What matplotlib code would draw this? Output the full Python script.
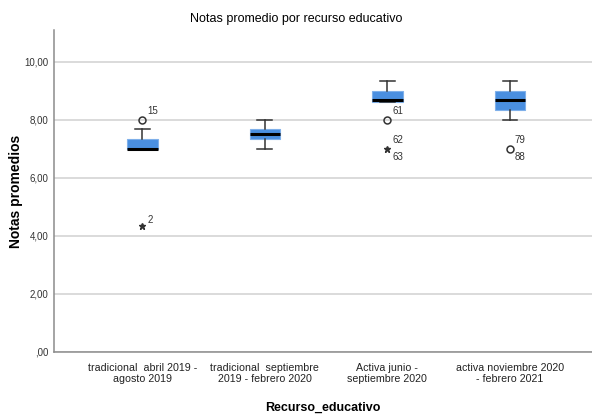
import matplotlib
matplotlib.use("Agg")
from matplotlib import pyplot as plt

plt.rcParams['font.family'] = ['Liberation Sans', 'DejaVu Sans']

# Datos
categorias = ["tradicional  abril 2019 -\nagosto 2019",
              "tradicional  septiembre\n2019 - febrero 2020",
              "Activa junio -\nseptiembre 2020",
              "activa noviembre 2020\n- febrero 2021"]
q1 = [7.0, 7.33, 8.63, 8.33]
mediana = [7.0, 7.52, 8.68, 8.68]
q3 = [7.33, 7.68, 9.0, 9.0]
bigote_bajo = [7.0, 7.0, 8.63, 8.0]
bigote_alto = [7.67, 8.0, 9.33, 9.33]

# atipicos: (grupo, valor, etiqueta)
atipicos_circ = [(0, 8.0, "15"), (2, 8.0, "61"), (3, 7.0, "79\n88")]
atipicos_ext = [(0, 4.33, "2"), (2, 7.0, "62\n63")]

stats = []
for i in range(4):
    stats.append({"q1": q1[i], "med": mediana[i], "q3": q3[i],
                  "whislo": bigote_bajo[i], "whishi": bigote_alto[i],
                  "fliers": []})

fig = plt.figure(figsize=(5.92, 4.15), dpi=100)
ax = fig.add_axes([0.0912, 0.152, 0.909, 0.776])

pos = [1, 2, 3, 4]
ax.bxp(stats, positions=pos, widths=0.25, patch_artist=True, showfliers=False,
       boxprops=dict(facecolor="#4a8fe0", edgecolor="#7fb0ea", linewidth=0.8),
       medianprops=dict(color="black", linewidth=2.2),
       whiskerprops=dict(color="#333333", linewidth=1.1),
       capprops=dict(color="#333333", linewidth=1.1),
       capwidths=0.12, zorder=3)


def etiqueta(x, v, lab, arriba):
    if "\n" in lab:
        a, b = lab.split("\n")
        ax.text(x + 0.04, v + 0.3, a, fontsize=7, color="#333333", ha="left", va="center")
        ax.text(x + 0.04, v - 0.28, b, fontsize=7, color="#333333", ha="left", va="center")
    else:
        ax.text(x + 0.04, v + arriba, lab, fontsize=7, color="#333333", ha="left", va="center")


for g, v, lab in atipicos_circ:
    ax.plot(pos[g], v, marker="o", mfc="none", mec="#333333", ms=5, mew=1.1, zorder=4)
    etiqueta(pos[g], v, lab, 0.3)

for g, v, lab in atipicos_ext:
    ax.plot(pos[g], v, marker="*", color="#333333", ms=4.5, zorder=4)
    etiqueta(pos[g], v, lab, 0.2)

ax.set_xlim(0.28, 4.67)
ax.set_ylim(0, 11.1)
ax.set_yticks([0, 2, 4, 6, 8, 10])
ax.set_yticklabels([",00", "2,00", "4,00", "6,00", "8,00", "10,00"], fontsize=7, color="#333333")
ax.set_xticks(pos)
ax.set_xticklabels(categorias, fontsize=7.7, color="#222222", linespacing=1.15)
ax.tick_params(axis="x", length=0, pad=8)
ax.tick_params(axis="y", length=0, pad=4)
ax.yaxis.grid(True, color="#d4d4d4", linewidth=1.2, zorder=0)
ax.set_axisbelow(True)
for s in ["top", "right"]:
    ax.spines[s].set_visible(False)
for s in ["left", "bottom"]:
    ax.spines[s].set_color("#8c8c8c")
    ax.spines[s].set_linewidth(1.1)

ax.set_ylabel("Notas promedios", fontsize=10, fontweight="bold")
ax.yaxis.set_label_coords(-0.058, 0.5)
ax.set_xlabel("Recurso_educativo", fontsize=9, fontweight="bold")
ax.xaxis.set_label_coords(0.5, -0.155)
fig.text(0.5, 0.955, "Notas promedio por recurso educativo", fontsize=9, ha="center", va="center")

fig.savefig("out.png", dpi=100)
